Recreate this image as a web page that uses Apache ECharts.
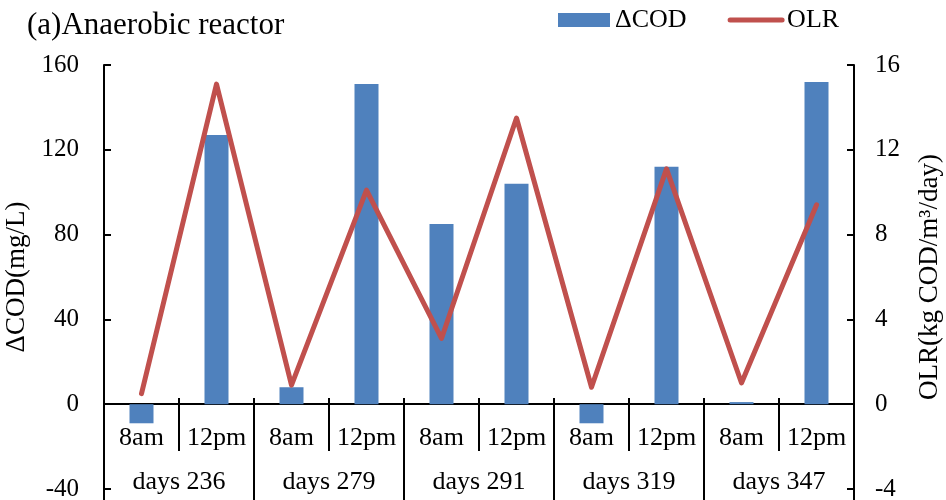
<!DOCTYPE html>
<html>
<head>
<meta charset="utf-8">
<script src="https://cdn.jsdelivr.net/npm/echarts@6/dist/echarts.min.js"></script>
<style>
  html, body { margin: 0; padding: 0; background: #fff; }
  #chart { width: 946px; height: 500px; }
</style>
</head>
<body>
<div id="chart"></div>
<script>
// 数据
var times = ['8am', '12pm', '8am', '12pm', '8am', '12pm', '8am', '12pm', '8am', '12pm'];
var days = ['days 236', 'days 279', 'days 291', 'days 319', 'days 347'];
var codData = [-9, 127, 8, 151, 85, 104, -9, 112, 1, 152];
var olrData = [0.5, 15.1, 0.9, 10.1, 3.1, 13.5, 0.8, 11.1, 1.0, 9.4];

var font = 'Liberation Serif, Times New Roman, serif';
var zeroOffset = -85; // 把分类轴移到 y=0 处
var myChart = echarts.init(document.getElementById('chart'));

var option = {
    backgroundColor: '#fff',
    animation: false,
    title: {
        text: '(a)Anaerobic reactor',
        left: 27,
        top: 10,
        padding: 0,
        textStyle: { fontFamily: font, fontSize: 31, fontWeight: 'normal', color: '#000' }
    },
    legend: {
        left: 558,
        top: 7,
        padding: 0,
        itemWidth: 52,
        itemHeight: 14,
        itemGap: 41,
        textStyle: { fontFamily: font, fontSize: 26, color: '#000' },
        data: [
            { name: 'ΔCOD', icon: 'rect' },
            { name: 'OLR', itemStyle: { opacity: 0 }, lineStyle: { width: 5, cap: 'round', color: '#C0504D' } }
        ]
    },
    grid: { left: 104, right: 92, top: 65, bottom: 11, outerBoundsMode: 'none', containLabel: false },
    xAxis: [
        {
            type: 'category',
            data: times,
            position: 'bottom',
            offset: zeroOffset,
            axisLine: { onZero: false, lineStyle: { color: '#000', width: 2 } },
            axisTick: { show: true, length: 47, lineStyle: { color: '#000', width: 2 } },
            axisLabel: { interval: 0, margin: 21, fontFamily: font, fontSize: 26, color: '#000' },
            splitLine: { show: false }
        },
        {
            type: 'category',
            data: days,
            position: 'bottom',
            offset: zeroOffset,
            axisLine: { onZero: false, show: false },
            axisTick: { show: true, length: 97, lineStyle: { color: '#000', width: 2 } },
            axisLabel: { interval: 0, margin: 65, fontFamily: font, fontSize: 26, color: '#000' },
            splitLine: { show: false }
        },
        {
            type: 'category',
            data: times,
            position: 'bottom',
            offset: zeroOffset,
            axisLine: { onZero: false, show: false },
            axisTick: { show: true, inside: true, length: 6, lineStyle: { color: '#000', width: 2 } },
            axisLabel: { show: false },
            splitLine: { show: false }
        }
    ],
    yAxis: [
        {
            type: 'value',
            min: -40,
            max: 160,
            interval: 40,
            name: 'ΔCOD(mg/L)',
            nameLocation: 'middle',
            nameGap: 68,
            nameRotate: 90,
            nameTextStyle: { fontFamily: font, fontSize: 27, color: '#000' },
            axisLine: { show: true, lineStyle: { color: '#000', width: 2 } },
            axisTick: { show: true, inside: true, length: 7, lineStyle: { color: '#000', width: 2 } },
            axisLabel: { margin: 25, fontFamily: font, fontSize: 25, color: '#000' },
            splitLine: { show: false }
        },
        {
            type: 'value',
            min: -4,
            max: 16,
            interval: 4,
            position: 'right',
            name: 'OLR(kg COD/m³/day)',
            nameLocation: 'middle',
            nameGap: 62,
            nameRotate: 90,
            nameTextStyle: { fontFamily: font, fontSize: 27, color: '#000' },
            axisLine: { show: true, lineStyle: { color: '#000', width: 2 } },
            axisTick: { show: true, inside: true, length: 7, lineStyle: { color: '#000', width: 2 } },
            axisLabel: { margin: 21, fontFamily: font, fontSize: 25, color: '#000' },
            splitLine: { show: false }
        }
    ],
    series: [
        {
            name: 'ΔCOD',
            type: 'bar',
            xAxisIndex: 0,
            yAxisIndex: 0,
            barWidth: 24,
            itemStyle: { color: '#4F81BD' },
            data: codData
        },
        {
            name: 'OLR',
            type: 'line',
            xAxisIndex: 0,
            yAxisIndex: 1,
            symbol: 'none',
            lineStyle: { color: '#C0504D', width: 5, cap: 'round', join: 'round' },
            itemStyle: { color: '#C0504D' },
            data: olrData
        }
    ]
};
myChart.setOption(option);
</script>
</body>
</html>
